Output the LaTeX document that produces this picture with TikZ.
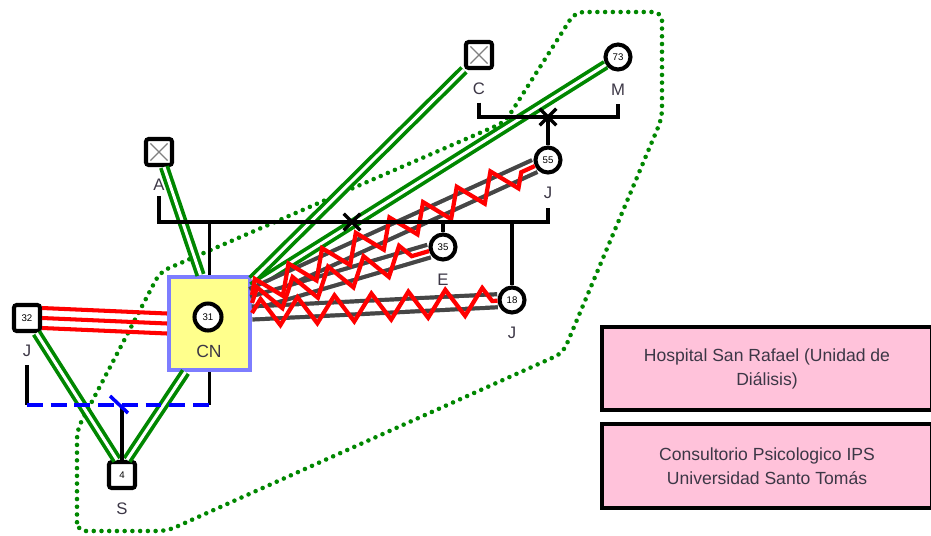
\documentclass[tikz,border=0pt]{standalone}
\usepackage{fontspec}
\setmainfont{Liberation Sans}
\usetikzlibrary{calc}
\usetikzlibrary{positioning}
\usetikzlibrary{shapes.misc}
\usetikzlibrary{decorations.pathmorphing}
\definecolor{lblgray}{RGB}{60,55,70}
\definecolor{relgreen}{RGB}{0,135,0}
\definecolor{cnyellow}{RGB}{255,255,140}
\definecolor{cnblue}{RGB}{125,125,255}
\definecolor{boxpink}{RGB}{255,194,218}
\definecolor{distgray}{RGB}{70,70,70}

\begin{document}
\begin{tikzpicture}[x=0.02cm, y=-0.02cm, node distance=0.24cm,
    pbox/.style={draw, line width=2.3pt, rounded corners=1.5pt, fill=white, minimum size=0.52cm, inner sep=0pt, font=\fontsize{5.5}{6}\selectfont},
    dbox/.style={pbox, path picture={\draw[gray, line width=0.7pt] ($(path picture bounding box.south west)+(2.5pt,2.5pt)$) -- ($(path picture bounding box.north east)+(-2.5pt,-2.5pt)$) ($(path picture bounding box.north west)+(2.5pt,-2.5pt)$) -- ($(path picture bounding box.south east)+(-2.5pt,2.5pt)$);}},
    pcirc/.style={draw, circle, line width=2.3pt, fill=white, minimum size=0.5cm, inner sep=0pt, font=\fontsize{5.5}{6}\selectfont},
    lbl/.style={text=lblgray, inner sep=0pt, font=\fontsize{9.5}{10}\selectfont},
    bar/.style={line width=2pt},
    sepmark/.style={cross out, draw, line width=2pt, minimum size=0.26cm, inner sep=0pt},
    bluedash/.style={draw=blue, line width=2pt, dash pattern=on 9pt off 4.5pt},
    greenrel/.style={draw=relgreen, line width=2.1pt, double=white, double distance=1.7pt},
    redrel/.style={draw=red, line width=2.3pt},
    grayrel/.style={draw=distgray, line width=2.4pt, double=white, double distance=5pt},
    zigrel/.style={draw=red, line width=2.4pt, decorate, decoration={zigzag, segment length=0.74cm, amplitude=0.27cm}},
    zone/.style={draw=relgreen, line width=2.6pt, line cap=round, dash pattern=on 0pt off 4.4pt, rounded corners=5pt},
    pinkbox/.style={draw, line width=2.4pt, fill=boxpink, minimum width=6.6cm, align=center, text=lblgray, font=\fontsize{10}{13.6}\selectfont}]
    \useasboundingbox (0,0) rectangle (931,535);
    \draw[zone] (77,531) -- (77,430) -- (160,272) -- (505,122) -- (575,12) -- (662,12) -- (662,118) -- (563,353) -- (167,531) -- cycle;

    \node[dbox] (nA) at (159,152) {};
    \node[dbox] (nC) at (479,55) {};
    \node[pcirc] (c73) at (618,57) {73};
    \node[pcirc] (c55) at (548,160) {55};
    \node[pcirc] (c35) at (443,247) {35};
    \node[pcirc] (c18) at (512,300) {18};
    \node[pbox] (j32) at (27,318) {32};
    \node[pbox] (s4) at (122,475) {4};
    \node[draw=cnblue, fill=cnyellow, line width=2.3pt, minimum width=1.62cm, minimum height=1.86cm] (cn) at (209.5,323.5) {};
    \node[pcirc, minimum size=0.54cm] (c31) at (208,317) {31};
    \node[lbl, font=\fontsize{10}{10}\selectfont] (lCN) at (209,351) {CN};

    \node[lbl, below=of nA] (lA) {A};
    \node[lbl, below=of nC] (lC) {C};
    \node[lbl, below=of c73] (lM) {M};
    \node[lbl, below=of c55] (lJ55) {J};
    \node[lbl, below=of c35] (lE) {E};
    \node[lbl, below=of c18] (lJ18) {J};
    \node[lbl, below=of j32] (lJ32) {J};
    \node[lbl, below=of s4] (lS) {S};

    \draw[greenrel] (nA) -- ([xshift=-0.18cm]cn.north);
    \draw[greenrel] (nC) -- ([yshift=-0.1cm]cn.north east);
    \draw[greenrel] (c73) -- ([yshift=-0.24cm]cn.north east);
    \draw[greenrel] (j32) -- ([xshift=-0.1cm]s4.north);
    \draw[greenrel] ([xshift=-0.48cm]cn.south) -- ([xshift=0.1cm]s4.north);

    \foreach \d in {-0.2,0,0.2}
        \draw[redrel] ([yshift=\d cm]j32.east) -- ([yshift=\d cm]cn.west);

    \draw[grayrel] ([yshift=0.57cm]cn.east) -- (c55);
    \draw[grayrel] ([yshift=0.41cm]cn.east) -- (c35);
    \draw[grayrel] ([yshift=0.21cm]cn.east) -- (c18);
    \draw[zigrel] ([yshift=0.57cm]cn.east) -- (c55);
    \draw[zigrel] ([yshift=0.41cm]cn.east) -- (c35);
    \draw[zigrel] ([yshift=0.21cm]cn.east) -- (c18);

    \coordinate (barA) at (352,222);
    \draw[bar] ([yshift=-0.1cm]lA.south) |- (barA) -| ([yshift=-0.18cm]lJ55.south);
    \draw[bar] (barA -| cn.north) -- (cn.north);
    \draw[bar] (barA -| c35.north) -- (c35.north);
    \draw[bar] (barA -| c18.north) -- (c18.north);
    \node[sepmark] (kA) at (barA) {};

    \coordinate (barC) at (548,117);
    \draw[bar] ([yshift=-0.16cm]lC.south) |- (barC) -| ([yshift=-0.16cm]lM.south);
    \draw[bar] (barC) -- (c55);
    \node[sepmark] (kC) at (barC) {};

    \coordinate (barJ) at (122,405);
    \draw[bar] ([yshift=-0.16cm]lJ32.south) -- (lJ32.south |- barJ);
    \draw[bar] (cn.south) -- (cn.south |- barJ);
    \draw[bar] (barJ) -- (s4);
    \draw[bluedash] (lJ32.south |- barJ) -- (cn.south |- barJ);
    \draw[blue, line width=2pt] ($(barJ)+(-12,-9)$) -- ($(barJ)+(6,8)$);

    \node[pinkbox, minimum height=1.66cm] (hosp) at (767,368.5) {Hospital San Rafael (Unidad de\\Diálisis)};
    \node[pinkbox, minimum height=1.68cm] (ips) at (767,466) {Consultorio Psicologico IPS\\Universidad Santo Tomás};
\end{tikzpicture}
\end{document}
